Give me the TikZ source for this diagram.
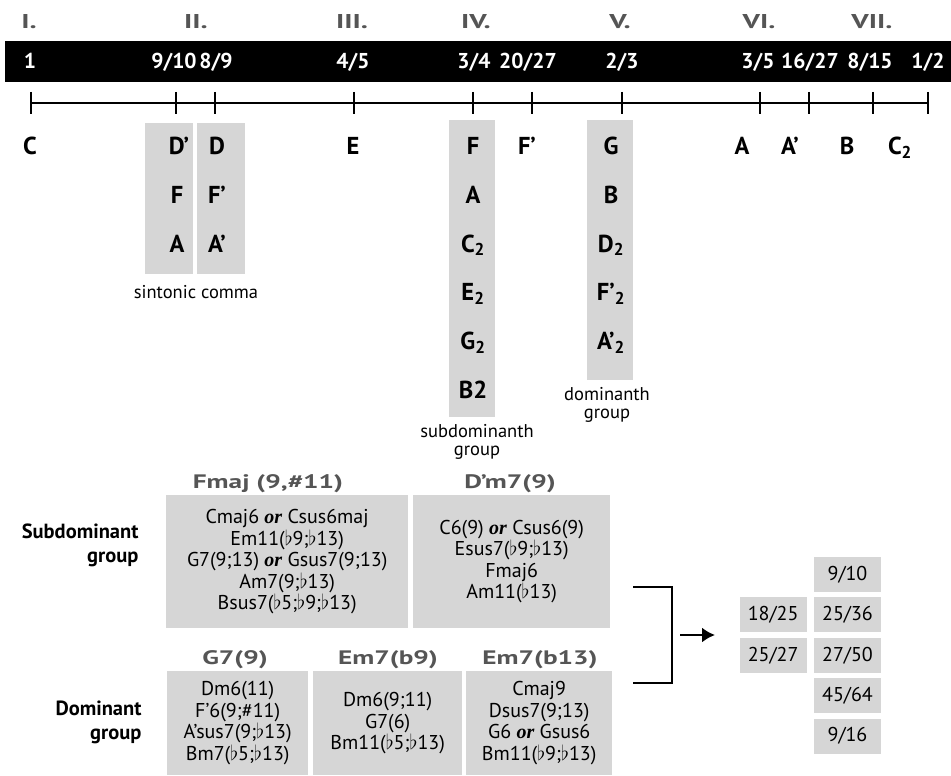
\documentclass[tikz,border=0pt]{standalone}
\usepackage{graphicx}
\usepackage{fontspec}
\setmainfont{PT Sans}
\newfontfamily\orfont{Liberation Serif}
\usetikzlibrary{positioning, arrows.meta}
\definecolor{boxgray}{RGB}{214,214,214}
\definecolor{headgray}{RGB}{85,85,85}
\newcommand{\flt}{$\flat$}
\newcommand{\orw}{{\orfont\bfseries\itshape or}}
\newcommand{\widen}[1]{\scalebox{1.4}[1]{#1}}
\newcommand{\widenr}[1]{\scalebox{1.45}[1]{#1}}

\begin{document}
\begin{tikzpicture}[x=1pt,y=-1pt,
    roman/.style={font=\fontsize{20}{20}\selectfont\bfseries, text=headgray, anchor=base},
    ratio/.style={font=\fontsize{21.5}{21.5}\selectfont\bfseries, text=white, anchor=base},
    note/.style={font=\fontsize{24.5}{24.5}\selectfont\bfseries, anchor=base, inner sep=0pt},
    colbox/.style={fill=boxgray, anchor=north west, inner sep=0pt},
    caption/.style={font=\fontsize{18.5}{18}\selectfont, align=center},
    chord/.style={fill=boxgray, anchor=north west, inner sep=0pt, align=center,
                  font=\fontsize{20}{21.5}\selectfont},
    head/.style={font=\fontsize{19.5}{19.5}\selectfont\bfseries, text=headgray, anchor=base},
    group/.style={font=\fontsize{20.5}{24}\selectfont\bfseries, align=right, anchor=east},
    frac/.style={fill=boxgray, minimum width=67pt, minimum height=35pt, inner sep=0pt,
                 font=\fontsize{20}{20}\selectfont}]
    \useasboundingbox (0,0) rectangle (951,776);

    % degrees
    \node[roman] (r1) at (29,28.5) {\widenr{I.}};
    \node[roman] (r2) at (196,28.5) {\widenr{II.}};
    \node[roman] (r3) at (352,28.5) {\widenr{III.}};
    \node[roman] (r4) at (476,28.5) {\widenr{IV.}};
    \node[roman] (r5) at (620,28.5) {\widenr{V.}};
    \node[roman] (r6) at (759,28.5) {\widenr{VI.}};
    \node[roman] (r7) at (872,28.5) {\widenr{VII.}};

    % ratio bar
    \node[fill=black, anchor=north west, inner sep=0pt,
          minimum width=946pt, minimum height=41pt] (bar) at (5,41) {};
    \node[ratio] (q1) at (30,68.5) {1};
    \node[ratio] (q2) at (174,68.5) {9/10};
    \node[ratio] (q3) at (216,68.5) {8/9};
    \node[ratio] (q4) at (353,68.5) {4/5};
    \node[ratio] (q5) at (474,68.5) {3/4};
    \node[ratio] (q6) at (528,68.5) {20/27};
    \node[ratio] (q7) at (622,68.5) {2/3};
    \node[ratio] (q8) at (758,68.5) {3/5};
    \node[ratio] (q9) at (810,68.5) {16/27};
    \node[ratio] (q10) at (870,68.5) {8/15};
    \node[ratio] (q11) at (928,68.5) {1/2};

    % axis
    \coordinate (t1) at (31,103);
    \coordinate (t2) at (176,103);
    \coordinate (t3) at (215,103);
    \coordinate (t4) at (354,103);
    \coordinate (t5) at (473,103);
    \coordinate (t6) at (532,103);
    \coordinate (t7) at (622,103);
    \coordinate (t8) at (760,103);
    \coordinate (t9) at (809,103);
    \coordinate (t10) at (873,103);
    \coordinate (t11) at (928,103);
    \draw[line width=1.4pt] (t1) -- (t11);
    \draw[line width=1.1pt]
        ([yshift=11pt]t1) -- ([yshift=-11pt]t1)
        ([yshift=11pt]t2) -- ([yshift=-11pt]t2)
        ([yshift=11pt]t3) -- ([yshift=-11pt]t3)
        ([yshift=11pt]t4) -- ([yshift=-11pt]t4)
        ([yshift=11pt]t5) -- ([yshift=-11pt]t5)
        ([yshift=11pt]t6) -- ([yshift=-11pt]t6)
        ([yshift=11pt]t7) -- ([yshift=-11pt]t7)
        ([yshift=11pt]t8) -- ([yshift=-11pt]t8)
        ([yshift=11pt]t9) -- ([yshift=-11pt]t9)
        ([yshift=11pt]t10) -- ([yshift=-11pt]t10)
        ([yshift=11pt]t11) -- ([yshift=-11pt]t11);

    % grey columns
    \node[colbox, minimum width=48pt, minimum height=151pt] (commaL) at (145,123) {};
    \node[colbox, minimum width=48pt, minimum height=151pt] (commaR) at (197,123) {};
    \node[colbox, minimum width=46pt, minimum height=297pt] (subcol) at (449,120) {};
    \node[colbox, minimum width=46pt, minimum height=260pt] (domcol) at (587,120) {};

    % notes
    \node[note] (nC) at (30,154.5) {C};
    \node[note] (nDp) at (179,154.5) {D’};
    \node[note] (nF) at ([xshift=-2pt,yshift=-49pt]nDp.base) {F};
    \node[note] (nA) at ([yshift=-49pt]nF.base) {A};
    \node[note] (nD) at (217,154.5) {D};
    \node[note] (nFp) at ([yshift=-49pt]nD.base) {F’};
    \node[note] (nAp) at ([yshift=-49pt]nFp.base) {A’};
    \node[note] (nE) at (353,154.5) {E};
    \node[note] (sF) at (473,154.5) {F};
    \node[note] (sA) at ([yshift=-48.8pt]sF.base) {A};
    \node[note] (sC) at ([yshift=-48.8pt]sA.base) {C\textsubscript{2}};
    \node[note] (sE) at ([yshift=-48.8pt]sC.base) {E\textsubscript{2}};
    \node[note] (sG) at ([yshift=-48.8pt]sE.base) {G\textsubscript{2}};
    \node[note] (sB) at ([yshift=-48.8pt]sG.base) {B2};
    \node[note] (nFq) at (527,154.5) {F’};
    \node[note] (dG) at (611,154.5) {G};
    \node[note] (dB) at ([yshift=-48.8pt]dG.base) {B};
    \node[note] (dD) at ([yshift=-48.8pt]dB.base) {D\textsubscript{2}};
    \node[note] (dF) at ([yshift=-48.8pt]dD.base) {F’\textsubscript{2}};
    \node[note] (dA) at ([yshift=-48.8pt]dF.base) {A’\textsubscript{2}};
    \node[note] (nA6) at (742,154.5) {A};
    \node[note] (nAq) at (790,154.5) {A’};
    \node[note] (nB) at (847,154.5) {B};
    \node[note] (nC2) at (900,154.5) {C\textsubscript{2}};

    \node[caption] (comma) at (196,292) {sintonic comma};
    \node[caption] (subcap) at (477,442) {subdominanth\\group};
    \node[caption] (domcap) at (607,405) {dominanth\\group};

    % chord boxes
    \node[head] (hF) at (268,488) {\widen{Fmaj (9,\#11)}};
    \node[head] (hD) at (510,488) {\widen{D’m7(9)}};
    \node[chord, minimum width=242pt, minimum height=133pt] (cF) at (166,495)
        {Cmaj6 \orw{} Csus6maj\\Em11(\flt9;\flt13)\\G7(9;13) \orw{} Gsus7(9;13)\\
         Am7(9;\flt13)\\Bsus7(\flt5;\flt9;\flt13)};
    \node[chord, minimum width=197pt, minimum height=133pt] (cD) at (413,495)
        {C6(9) \orw{} Csus6(9)\\Esus7(\flt9;\flt13)\\Fmaj6\\Am11(\flt13)};
    \node[group] (gSub) at (142,545) {Subdominant\\group};

    \node[head] (hG) at (235,664) {\widen{G7(9)}};
    \node[head] (hE9) at (388,664) {\widen{Em7(b9)}};
    \node[head] (hE13) at (540,664) {\widen{Em7(b13)}};
    \node[chord, minimum width=141pt, minimum height=104pt] (cG) at (167,671)
        {Dm6(11)\\F’6(9;\#11)\\A’sus7(9;\flt13)\\Bm7(\flt5;\flt13)};
    \node[chord, minimum width=149pt, minimum height=104pt] (cE9) at (313,671)
        {Dm6(9;11)\\G7(6)\\Bm11(\flt5;\flt13)};
    \node[chord, minimum width=146pt, minimum height=104pt] (cE13) at (466,671)
        {Cmaj9\\Dsus7(9;13)\\G6 \orw{} Gsus6\\Bm11(\flt9;\flt13)};
    \node[group] (gDom) at (145,722) {Dominant\\group};

    % bracket and arrow
    \coordinate (brT) at (633,587);
    \coordinate (brB) at (633,683);
    \coordinate (arS) at (680,635);
    \coordinate (arE) at (715,635);
    \draw[line width=2.2pt] (brT) -- ++(39,0) |- (brB);
    \draw[-{Latex[length=13pt,width=15pt]}, line width=2.2pt] (arS) -- (arE);

    % ratios of the groups
    \node[frac] (f1) at (847.5,574.5) {9/10};
    \node[frac, below=5pt of f1] (f2) {25/36};
    \node[frac, below=5pt of f2] (f3) {27/50};
    \node[frac, below=5pt of f3] (f4) {45/64};
    \node[frac, below=5pt of f4] (f5) {9/16};
    \node[frac, left=7pt of f2] (e1) {18/25};
    \node[frac, left=7pt of f3] (e2) {25/27};
\end{tikzpicture}
\end{document}
